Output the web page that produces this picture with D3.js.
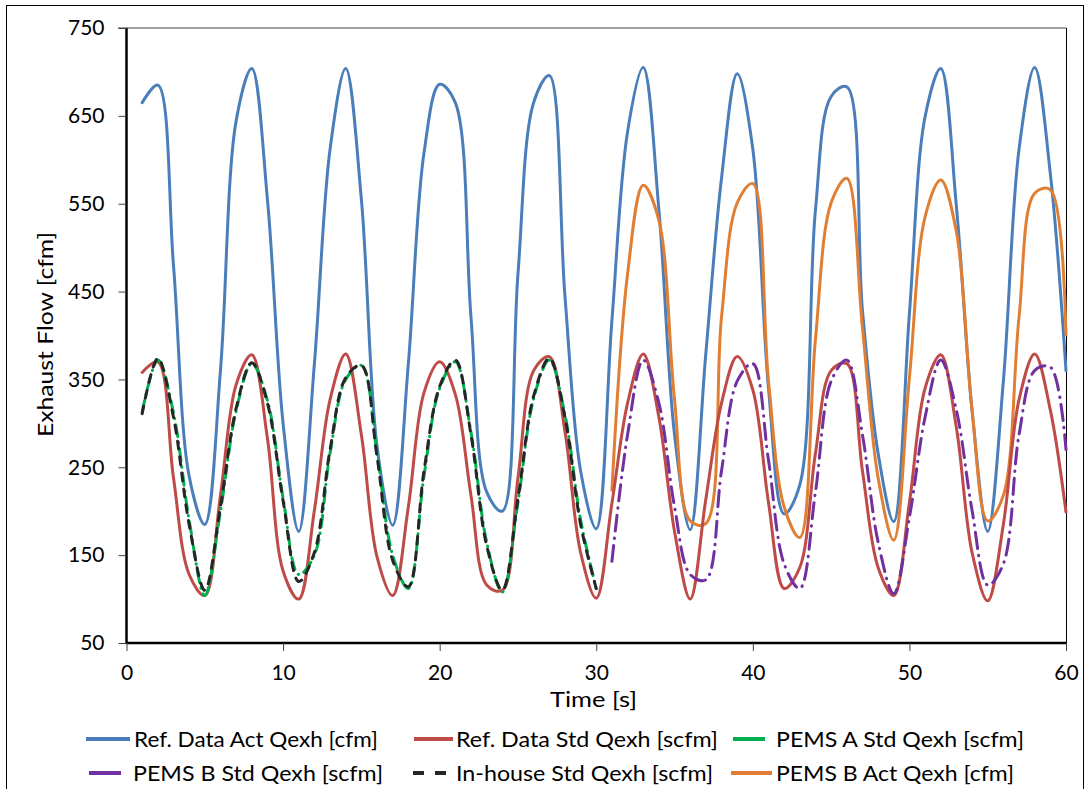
<!DOCTYPE html>
<html>
<head>
<meta charset="utf-8">
<script src="https://cdn.jsdelivr.net/npm/d3@7"></script>
<style>
  body { margin: 0; background: #fff; }
  text { font-family: Lato, "Open Sans", sans-serif; fill: #000; }
</style>
</head>
<body>
<svg id="chart" width="1089" height="789"></svg>
<script>
// time in seconds (1 Hz samples)
var timeA = d3.range(1, 61);
var timeB = d3.range(31, 61);
var timeC = d3.range(1, 31);

var refAct = [665, 685, 480, 240, 185, 360, 644, 704, 555, 300,
              177, 368, 612, 704, 555, 274, 184, 368, 608, 686,
              665, 421, 222, 200, 470, 665, 696, 445, 246, 180,
              417, 632, 705, 543, 287, 179, 380, 579, 698, 612,
              340, 197, 230, 543, 672, 683, 429, 266, 188, 425,
              649, 704, 547, 315, 177, 348, 612, 705, 584, 360];

var refStd = [358, 370, 238, 128, 104, 218, 344, 378, 283, 132,
              100, 201, 327, 379, 287, 148, 104, 205, 335, 370,
              333, 218, 116, 110, 238, 360, 376, 291, 153, 101,
              209, 323, 379, 307, 177, 100, 214, 323, 376, 338,
              210, 112, 136, 266, 360, 368, 246, 136, 104, 210,
              340, 378, 295, 153, 98, 185, 327, 379, 315, 199];

var pemsAStd = [313, 372, 312, 190, 104, 200, 314, 368, 326, 215,
                128, 150, 266, 350, 366, 266, 150, 112, 240, 340,
                370, 290, 165, 108, 210, 328, 372, 310, 190, 112];

var inHouseStd = [311, 374, 307, 185, 110, 205, 317, 369, 323, 212,
                  120, 153, 270, 352, 366, 262, 144, 114, 246, 342,
                  372, 287, 161, 110, 214, 331, 374, 307, 185, 112];

var pemsBStd = [143, 287, 372, 323, 205, 128, 122, 246, 348, 368,
                258, 140, 112, 222, 348, 372, 287, 165, 106, 193,
                307, 372, 315, 201, 116, 140, 287, 360, 364, 270];

var pemsBAct = [224, 470, 571, 531, 327, 189, 186, 421, 551, 573,
                348, 205, 170, 396, 551, 579, 409, 238, 167, 352,
                535, 577, 518, 315, 189, 218, 421, 562, 566, 401];

var xTicks = [0, 10, 20, 30, 40, 50, 60];
var yTicks = [50, 150, 250, 350, 450, 550, 650, 750];

var series = [
  { name: 'Ref. Data Act Qexh [cfm]',  t: timeA, v: refAct,     color: '#4a7ebb', dash: null,         key: null },
  { name: 'Ref. Data Std Qexh [scfm]', t: timeA, v: refStd,     color: '#be4b48', dash: null,         key: null },
  { name: 'PEMS A Std Qexh [scfm]',    t: timeC, v: pemsAStd,   color: '#00b050', dash: '12 6 0.5 6', key: '32 40' },
  { name: 'PEMS B Std Qexh [scfm]',    t: timeB, v: pemsBStd,   color: '#7030a0', dash: '16 7 0.5 7', key: '32 40' },
  { name: 'In-house Std Qexh [scfm]',  t: timeC, v: inHouseStd, color: '#262626', dash: '8 8',        key: '11 11' },
  { name: 'PEMS B Act Qexh [cfm]',     t: timeB, v: pemsBAct,   color: '#e07f34', dash: null,         key: null }
];

// legend placement (line start, line end, text start, text width)
var legendPos = [
  { x0: 86,  x1: 130, tx: 134, tw: 244, y: 739 },
  { x0: 414, x1: 453, tx: 456, tw: 262, y: 739 },
  { x0: 733, x1: 768, tx: 776, tw: 248, y: 739 },
  { x0: 89,  x1: 121, tx: 133, tw: 250, y: 773 },
  { x0: 413, x1: 446, tx: 456, tw: 257, y: 773 },
  { x0: 731, x1: 772, tx: 776, tw: 238, y: 773 }
];

// draw order: the std lines over the act lines like the original
var drawOrder = [0, 5, 1, 2, 4, 3];

var svg = d3.select('#chart');

var x = d3.scaleLinear().domain([0, 60]).range([126.5, 1066]);
var y = d3.scaleLinear().domain([50, 750]).range([643, 28]);

// outer frame
svg.append('rect')
  .attr('x', 6.5).attr('y', 5.5)
  .attr('width', 1077).attr('height', 800)
  .attr('fill', 'none').attr('stroke', '#000').attr('stroke-width', 1);

// top and right plot border
svg.append('line')
  .attr('x1', 118).attr('x2', 1066).attr('y1', y(750)).attr('y2', y(750))
  .attr('stroke', '#7f7f7f').attr('stroke-width', 1.5);
svg.append('line')
  .attr('x1', 1066.5).attr('x2', 1066.5).attr('y1', y(750)).attr('y2', y(50))
  .attr('stroke', '#000').attr('stroke-width', 1);

// axes
var yAxis = svg.append('g')
  .attr('transform', 'translate(' + x(0) + ',0)')
  .call(d3.axisLeft(y).tickValues(yTicks).tickSize(8).tickPadding(14).tickFormat(d3.format('d')));
var xAxis = svg.append('g')
  .attr('transform', 'translate(0,' + y(50) + ')')
  .call(d3.axisBottom(x).tickValues(xTicks).tickSize(8).tickPadding(14).tickFormat(d3.format('d')));

[yAxis, xAxis].forEach(function (g) {
  g.select('.domain').attr('stroke', '#000').attr('stroke-width', 2.5);
  g.selectAll('.tick line').attr('stroke', '#404040').attr('stroke-width', 1);
  g.selectAll('.tick text').style('font-size', '21px').attr('fill', '#000');
});
yAxis.select('.domain').attr('d', 'M0,' + y(750) + 'V' + (y(50) + 1));
xAxis.select('.domain').attr('d', 'M' + x(0) + ',0H' + x(60));

// axis titles
svg.append('text')
  .attr('x', 550).attr('y', 707)
  .attr('textLength', 87)
  .attr('lengthAdjust', 'spacingAndGlyphs')
  .style('font-size', '22px')
  .text('Time [s]');

svg.append('text')
  .attr('transform', 'translate(53,437) rotate(-90)')
  .attr('textLength', 205)
  .attr('lengthAdjust', 'spacingAndGlyphs')
  .style('font-size', '22px')
  .text('Exhaust Flow [cfm]');

// lines
var line = d3.line()
  .x(function (d) { return x(d[0]); })
  .y(function (d) { return y(d[1]); })
  .curve(d3.curveCatmullRom);

drawOrder.forEach(function (i) {
  var s = series[i];
  var pts = s.t.map(function (t, k) { return [t, s.v[k]]; });
  svg.append('path')
    .datum(pts)
    .attr('d', line)
    .attr('fill', 'none')
    .attr('stroke', s.color)
    .attr('stroke-width', 3)
    .attr('stroke-linecap', 'round')
    .attr('stroke-linejoin', 'round')
    .attr('stroke-dasharray', s.dash);
});

// legend, 3 columns x 2 rows
series.forEach(function (s, i) {
  var p = legendPos[i];
  svg.append('line')
    .attr('x1', p.x0).attr('x2', p.x1).attr('y1', p.y).attr('y2', p.y)
    .attr('stroke', s.color)
    .attr('stroke-width', 4)
    .attr('stroke-dasharray', s.key);
  svg.append('text')
    .attr('x', p.tx).attr('y', p.y + 8)
    .attr('textLength', p.tw)
    .attr('lengthAdjust', 'spacingAndGlyphs')
    .style('font-size', '21px')
    .text(s.name);
});
</script>
</body>
</html>
